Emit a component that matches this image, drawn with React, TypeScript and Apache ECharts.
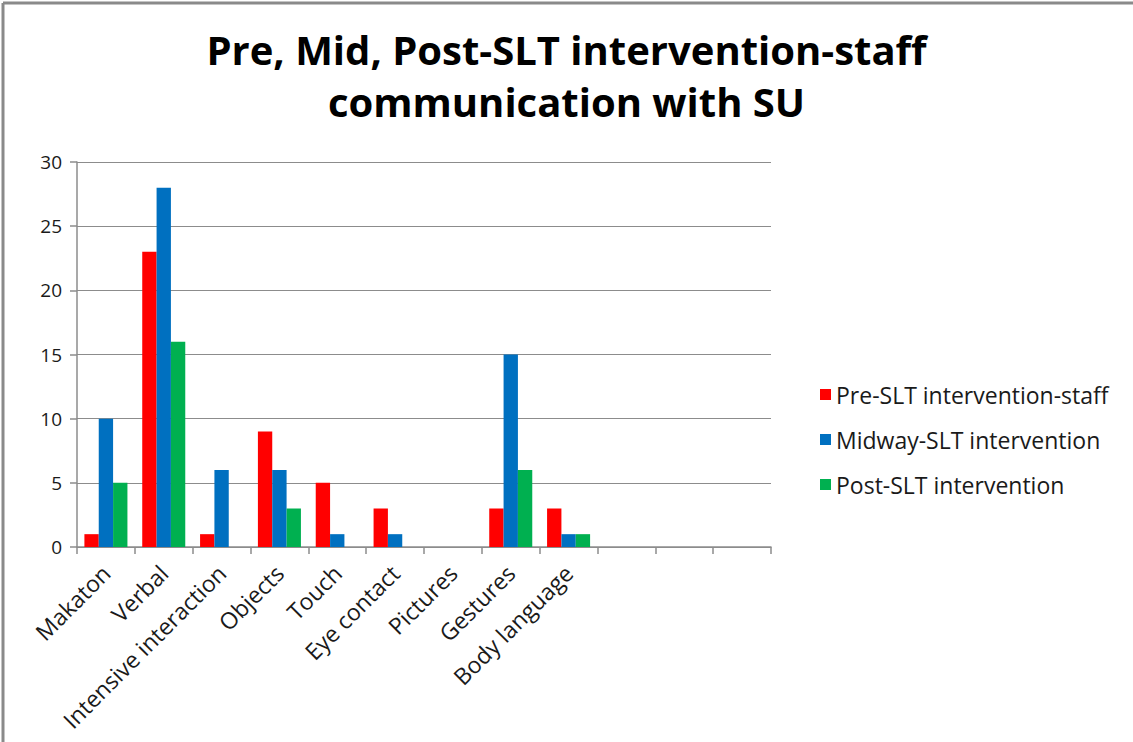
import React, { useEffect, useRef } from "react";
import * as echarts from "echarts";

const categories = [
  "Makaton",
  "Verbal",
  "Intensive interaction",
  "Objects",
  "Touch",
  "Eye contact",
  "Pictures",
  "Gestures",
  "Body language",
  "",
  "",
  "",
];
const preSLT = [1, 23, 1, 9, 5, 3, 0, 3, 3, null, null, null];
const midSLT = [10, 28, 6, 6, 1, 1, 0, 15, 1, null, null, null];
const postSLT = [5, 16, 0, 3, 0, 0, 0, 6, 1, null, null, null];
const seriesNames = [
  "Pre-SLT intervention-staff",
  "Midway-SLT intervention",
  "Post-SLT intervention",
];
const colors = ["#FF0000", "#0070C0", "#00B050"];
const titleText = "Pre, Mid, Post-SLT intervention-staff\ncommunication with SU";

export default function App() {
  const ref = useRef<HTMLDivElement>(null);
  useEffect(() => {
    document.body.style.margin = "0";
    const chart = echarts.init(ref.current!, null, { renderer: "svg" });
    const font = "Open Sans";
    const mk = (name: string, data: (number | null)[], color: string) => ({
      name,
      type: "bar",
      data,
      barGap: "0%",
      barCategoryGap: "25.6%",
      itemStyle: { color },
    });
    chart.setOption({
      animation: false,
      backgroundColor: "#ffffff",
      title: {
        text: titleText,
        left: "center",
        top: 18,
        textStyle: {
          fontFamily: font,
          fontWeight: "bold",
          fontSize: 40,
          lineHeight: 52,
          color: "#000000",
        },
      },
      legend: {
        orient: "vertical",
        left: 815,
        top: 378,
        itemWidth: 11,
        itemHeight: 11,
        itemGap: 22,
        icon: "rect",
        textStyle: { fontFamily: font, fontSize: 23, color: "#1a1a1a", lineHeight: 23 },
        data: seriesNames,
      },
      grid: { left: 77, right: 362, top: 162, bottom: 195, containLabel: false },
      xAxis: {
        type: "category",
        data: categories,
        axisLine: { lineStyle: { color: "#8c8c8c", width: 1.5 } },
        axisTick: { show: true, length: 7, lineStyle: { color: "#8c8c8c", width: 1.5 } },
        axisLabel: {
          rotate: 45,
          interval: 0,
          margin: 22,
          fontFamily: font,
          fontSize: 23,
          color: "#1a1a1a",
        },
      },
      yAxis: {
        type: "value",
        min: 0,
        max: 30,
        interval: 5,
        axisLine: { show: true, lineStyle: { color: "#8c8c8c", width: 1.5 } },
        axisTick: { show: true, length: 7, lineStyle: { color: "#8c8c8c", width: 1.5 } },
        splitLine: { lineStyle: { color: "#8c8c8c", width: 1 } },
        axisLabel: { margin: 15, fontFamily: font, fontSize: 19, color: "#1a1a1a" },
      },
      graphic: [
        { type: "line", shape: { x1: 3, y1: 3, x2: 1133, y2: 3 }, style: { stroke: "#8a8a8a", lineWidth: 3 } },
        { type: "line", shape: { x1: 3, y1: 3, x2: 3, y2: 742 }, style: { stroke: "#8a8a8a", lineWidth: 3 } },
      ],
      series: [
        mk(seriesNames[0], preSLT, colors[0]),
        mk(seriesNames[1], midSLT, colors[1]),
        mk(seriesNames[2], postSLT, colors[2]),
      ],
    });
    return () => chart.dispose();
  }, []);
  return <div ref={ref} style={{ width: 1133, height: 742 }} />;
}
